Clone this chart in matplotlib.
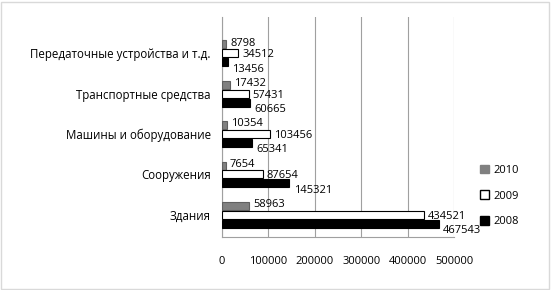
import numpy as np
import matplotlib
matplotlib.use("Agg")
import matplotlib.pyplot as plt
from matplotlib.patches import Patch

categories = ['Здания', 'Сооружения', 'Машины и оборудование',
              'Транспортные средства', 'Передаточные устройства и т.д.']
years = ['2010', '2009', '2008']
v2010 = [58963, 7654, 10354, 17432, 8798]
v2009 = [434521, 87654, 103456, 57431, 34512]
v2008 = [467543, 145321, 65341, 60665, 13456]
xticks = [0, 100000, 200000, 300000, 400000, 500000]

plt.rcParams['font.family'] = ['Open Sans', 'DejaVu Sans']

fig = plt.figure(figsize=(5.56, 2.90), dpi=100)
fig.patches.append(plt.Rectangle((0.002, 0.004), 0.985, 0.99, transform=fig.transFigure,
                                 fill=False, edgecolor='#d9d9d9', linewidth=1))
ax = fig.add_axes([222/556, 53/290, (454-222)/556, (237-17)/290])

y = np.arange(len(categories))
h = 0.2
series = [(v2010, '#808080', '#606060', 0.22, (3, 1)),
          (v2009, 'white', 'black', 0.0, (3, -1)),
          (v2008, 'black', 'black', -0.22, (3, -5))]
for vals, fc, ec, off, txt in series:
    ax.barh(y + off, vals, height=h, color=fc, edgecolor=ec, linewidth=0.8, zorder=3)
    for yi, v in zip(y, vals):
        ax.annotate(str(v), (v, yi + off), xytext=txt, textcoords='offset points',
                    ha='left', va='center', fontsize=8, zorder=4)

ax.set_xlim(0, 500000)
ax.set_ylim(-0.55, 4.9)
ax.set_xticks(xticks)
ax.set_xticklabels([str(t) for t in xticks], fontsize=8)
ax.set_yticks(y)
ax.set_yticklabels(categories, fontsize=8.3)
ax.tick_params(axis='y', length=0, pad=8)
ax.tick_params(axis='x', length=0, pad=14)
ax.grid(axis='x', color='#a0a0a0', linewidth=0.8, zorder=0)
for s in ['top', 'right']:
    ax.spines[s].set_visible(False)
ax.spines['left'].set_color('#a0a0a0')
ax.spines['bottom'].set_color('#a0a0a0')

handles = [Patch(facecolor='#808080', edgecolor='#808080'),
           Patch(facecolor='white', edgecolor='black'),
           Patch(facecolor='black', edgecolor='black')]
fig.legend(handles, years, loc='center left', bbox_to_anchor=(470/556, 1 - 196/290),
           frameon=False, fontsize=8, handlelength=0.8, handleheight=0.8,
           labelspacing=1.3, handletextpad=0.4)

fig.savefig('out.png', dpi=100)
